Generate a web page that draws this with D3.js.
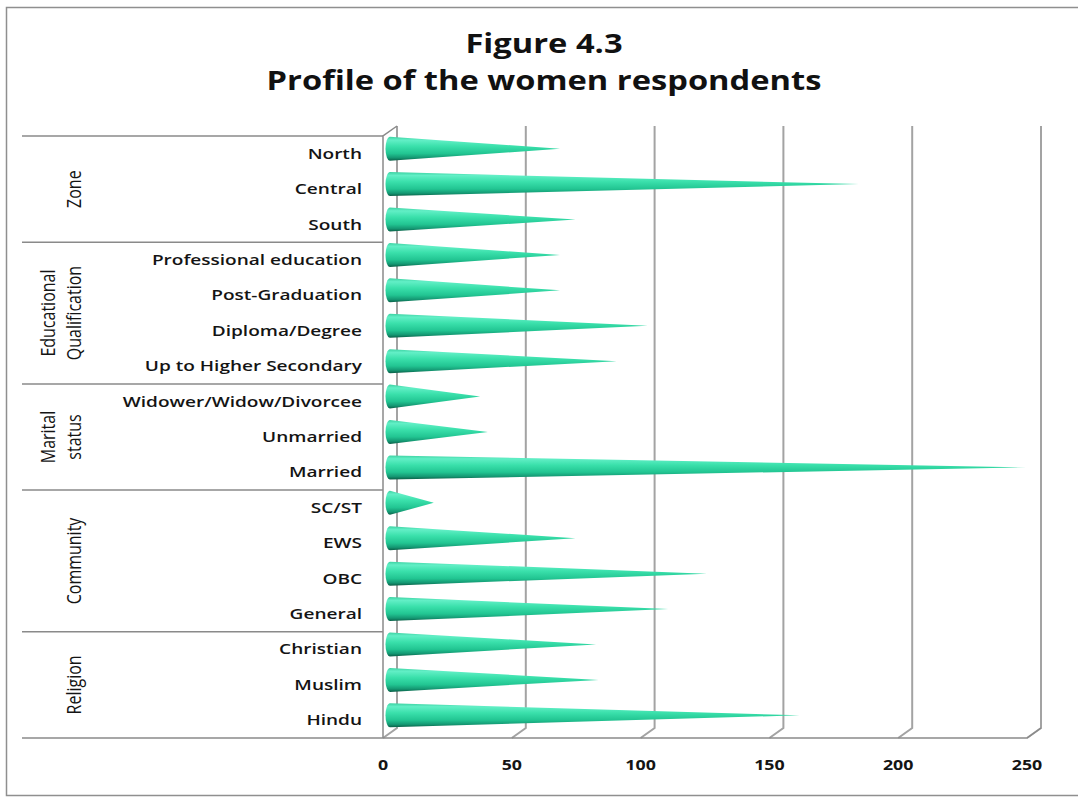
<!DOCTYPE html>
<html>
<head>
<meta charset="utf-8">
<script src="https://cdn.jsdelivr.net/npm/d3@7"></script>
<style>
  html, body { margin: 0; padding: 0; background: #fff; }
  svg { display: block; }
</style>
</head>
<body>
<svg id="chart" width="1078" height="797"></svg>
<script>
// Respondent profile, grouped by attribute (top to bottom)
const categories = [
  "North", "Central", "South",
  "Professional education", "Post-Graduation", "Diploma/Degree", "Up to Higher Secondary",
  "Widower/Widow/Divorcee", "Unmarried", "Married",
  "SC/ST", "EWS", "OBC", "General",
  "Christian", "Muslim", "Hindu"
];
const counts = [
  66, 182, 72,
  66, 66, 100, 88,
  35, 38, 247,
  17, 72, 123, 108,
  80, 81, 159
];
const groups = [
  { lines: ["Zone"], first: 0, size: 3 },
  { lines: ["Educational", "Qualification"], first: 3, size: 4 },
  { lines: ["Marital", "status"], first: 7, size: 3 },
  { lines: ["Community"], first: 10, size: 4 },
  { lines: ["Religion"], first: 14, size: 3 }
];
const tickValues = [0, 50, 100, 150, 200, 250];
const titleLines = ["Figure 4.3", "Profile of the women respondents"];

const svg = d3.select("#chart");

// Plot box (front plane) and 3-D depth offset
const plotTop = 136, plotBottom = 738, plotLeft = 383, plotRight = 1027;
const depth = { dx: 14, dy: -10 };
// glyphs are set slightly wide
const stretch = 1.27;
const font = "'Open Sans', sans-serif";

const xFront = d3.scaleLinear().domain([0, 250]).range([plotLeft, plotRight]);
const xBack = v => xFront(v) + depth.dx;
const xMid = v => xFront(v) + depth.dx / 2;
const y = d3.scaleBand().domain(categories).range([plotTop, plotBottom]).padding(0);

// outer frame
svg.append("rect")
  .attr("x", 6.5).attr("y", 7.5).attr("width", 1100).attr("height", 788)
  .attr("fill", "#fff").attr("stroke", "#8f8f8f").attr("stroke-width", 1.5);

// title
svg.append("g")
  .attr("font-family", font)
  .attr("font-weight", 700)
  .attr("font-size", 26)
  .attr("fill", "#111")
  .attr("text-anchor", "middle")
  .selectAll("text").data(titleLines).join("text")
  .attr("transform", (d, i) => `translate(544,${53 + i * 37}) scale(${stretch * 0.99},1)`)
  .text(d => d);

const grid = svg.append("g").attr("fill", "none");

// back wall gridlines, each bending onto the floor
grid.selectAll("path.tick").data(tickValues).join("path")
  .attr("class", "tick")
  .attr("d", t => `M${xBack(t)},${plotTop + depth.dy} V${plotBottom + depth.dy} L${xFront(t)},${plotBottom}`)
  .attr("stroke", "#a3a3a3").attr("stroke-width", 2);

// side wall front edge and top corner
grid.append("path")
  .attr("d", `M${plotLeft},${plotBottom} V${plotTop} L${xBack(0)},${plotTop + depth.dy}`)
  .attr("stroke", "#8a8a8a").attr("stroke-width", 1.5);

// floor front edge, running back up at the right end
grid.append("path")
  .attr("d", `M22,${plotBottom} H${plotRight} L${xBack(250)},${plotBottom + depth.dy}`)
  .attr("stroke", "#8a8a8a").attr("stroke-width", 1.5);

// group separators in the category axis
const sepY = groups.map(g => y(categories[g.first]));
grid.selectAll("line.sep").data(sepY).join("line")
  .attr("class", "sep")
  .attr("x1", 22).attr("x2", plotLeft)
  .attr("y1", d => d).attr("y2", d => d)
  .attr("stroke", "#8a8a8a").attr("stroke-width", 1.5);

// cone shading
const defs = svg.append("defs");
const grad = defs.append("linearGradient")
  .attr("id", "coneFill").attr("x1", 0).attr("y1", 0).attr("x2", 0).attr("y2", 1);
[
  [0, "#3cd2a2"], [0.14, "#62efc6"], [0.4, "#3ae0ab"],
  [0.7, "#22c592"], [0.88, "#149772"], [1, "#0a5e46"]
].forEach(([o, c]) => grad.append("stop").attr("offset", o).attr("stop-color", c));

// cones, drawn at mid depth
const r = 12, rx = 4.5;
const x0 = xMid(0);
svg.append("g").selectAll("path").data(categories).join("path")
  .attr("d", (c, i) => {
    const cy = y(c) + y.bandwidth() / 2 + depth.dy / 2;
    const tip = xMid(counts[i]);
    return `M${x0},${cy - r} L${tip},${cy} L${x0},${cy + r} A${rx},${r} 0 0 1 ${x0},${cy - r} Z`;
  })
  .attr("fill", "url(#coneFill)");

// category labels
svg.append("g")
  .attr("font-family", font)
  .attr("font-weight", 600)
  .attr("font-size", 15)
  .attr("fill", "#141414")
  .attr("text-anchor", "end")
  .selectAll("text").data(categories).join("text")
  .attr("transform", c => `translate(362,${y(c) + y.bandwidth() / 2 + 5}) scale(${stretch},1)`)
  .text(c => c);

// group labels, rotated
const gl = svg.append("g")
  .attr("font-family", font)
  .attr("font-size", 16)
  .attr("fill", "#141414")
  .attr("text-anchor", "middle");
groups.forEach(g => {
  const cy = y(categories[g.first]) + g.size * y.bandwidth() / 2;
  const xs = g.lines.length === 2 ? [55, 81] : [81];
  g.lines.forEach((line, i) => {
    gl.append("text")
      .attr("transform", `translate(${xs[i]},${cy}) scale(${stretch},1) rotate(-90)`)
      .text(line);
  });
});

// value axis labels
svg.append("g")
  .attr("font-family", font)
  .attr("font-weight", 700)
  .attr("font-size", 14)
  .attr("fill", "#141414")
  .attr("text-anchor", "middle")
  .selectAll("text").data(tickValues).join("text")
  .attr("transform", t => `translate(${xFront(t)},770) scale(${stretch},1)`)
  .text(t => t);
</script>
</body>
</html>
